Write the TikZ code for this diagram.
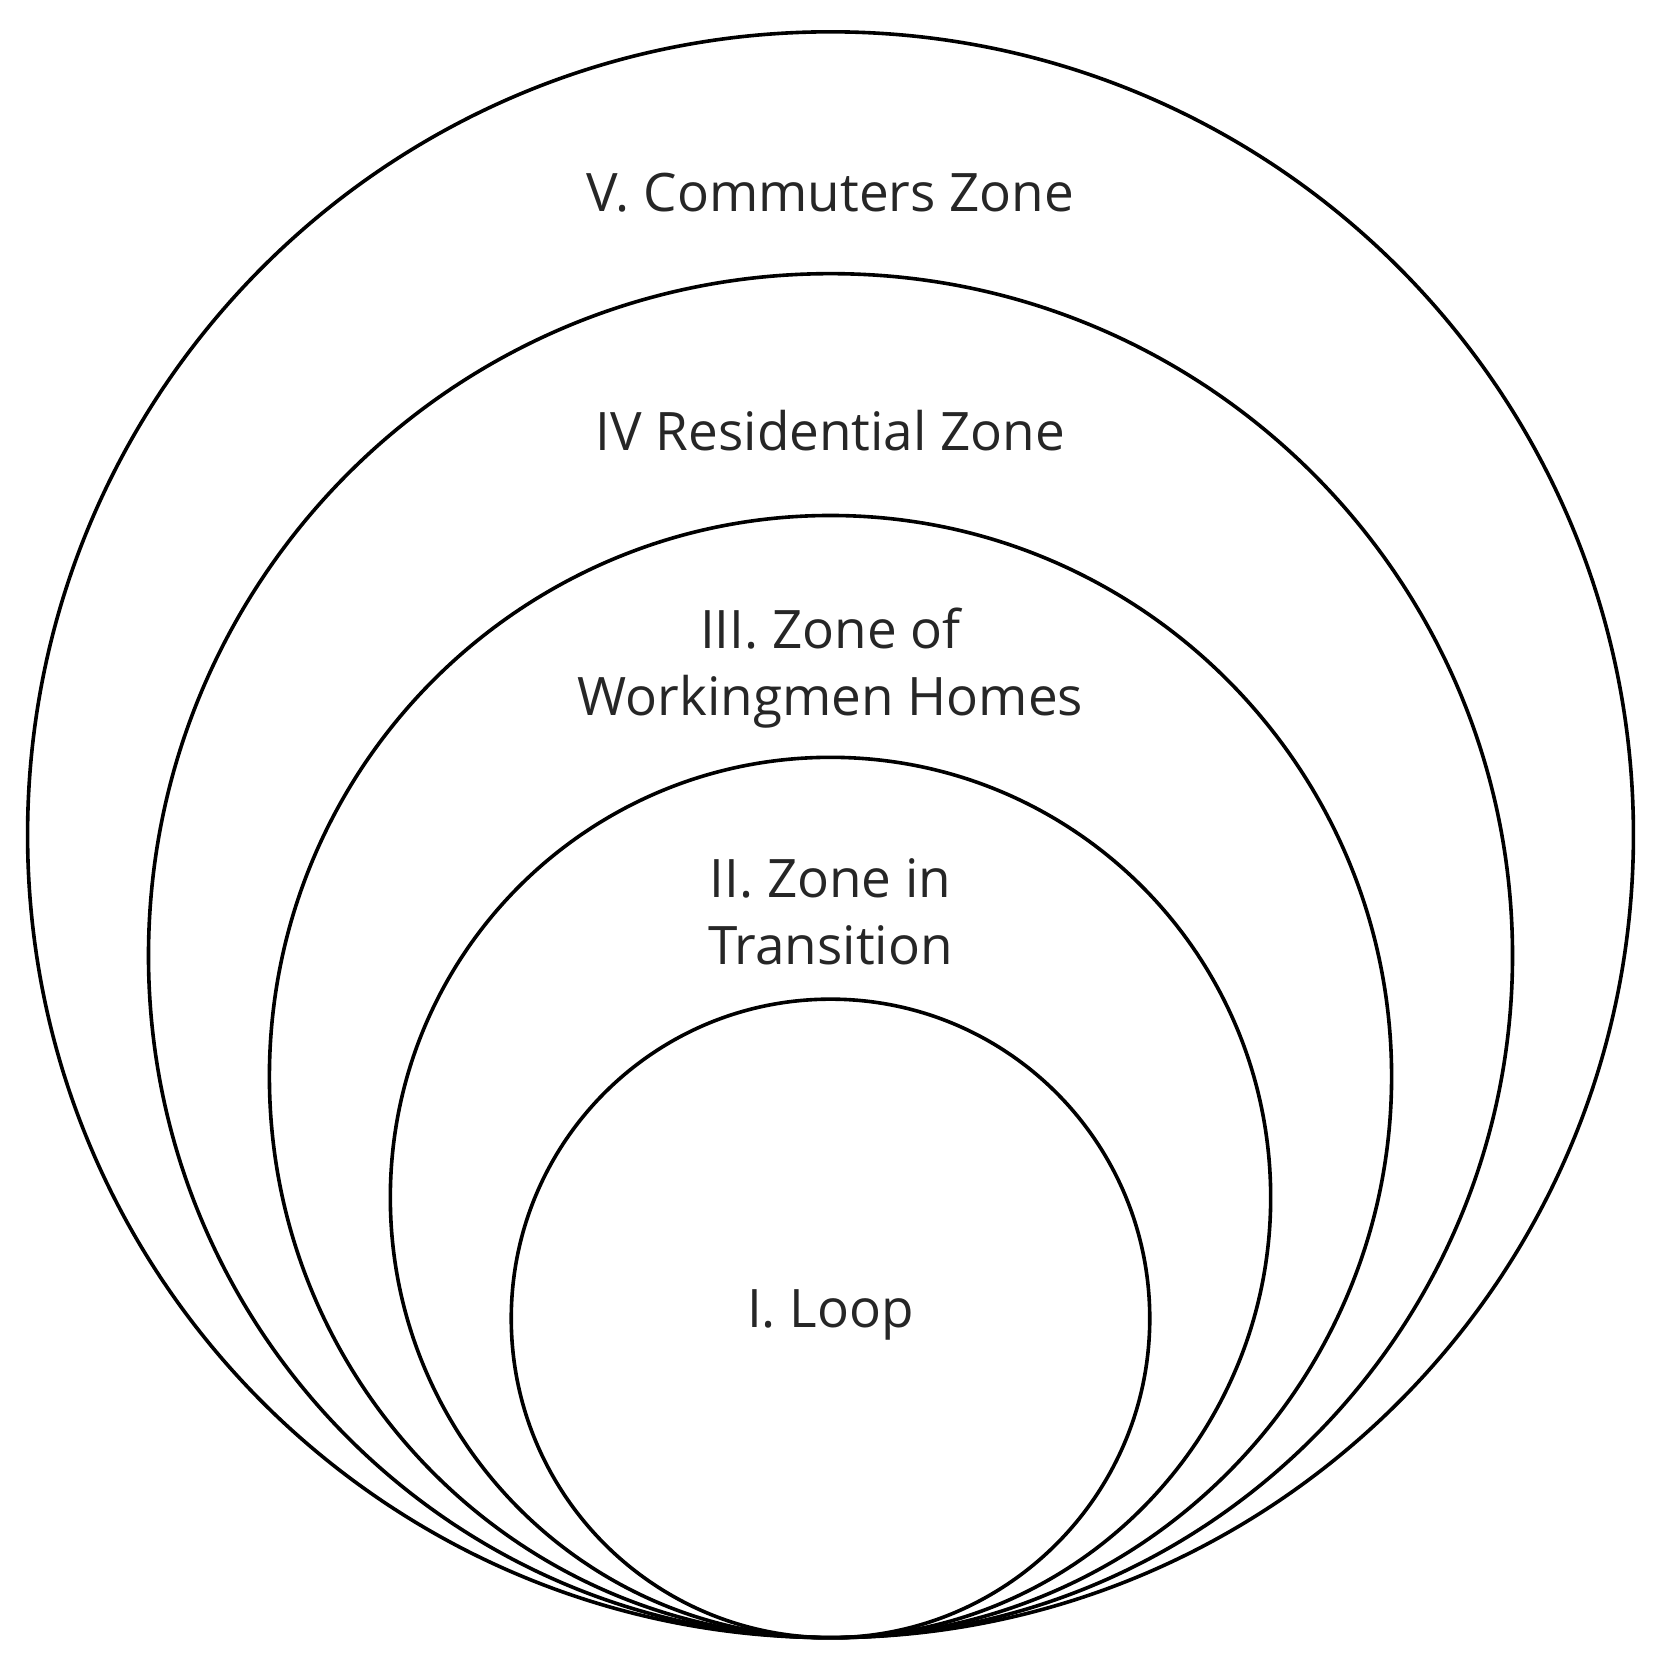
\documentclass[tikz,border=0pt]{standalone}
\usepackage{fontspec}
\setmainfont{Open Sans}
\begin{document}
\begin{tikzpicture}[x=1pt,y=-1pt,
  ring/.style={draw=black,line width=3.4pt},
  lbl/.style={font=\fontsize{50}{63}\selectfont,align=center,text=black!85}]
\useasboundingbox (0,0) rectangle (1566,1563);
\fill[white] (0,0) rectangle (1566,1563);
\draw[ring] (783,787) circle (757);
\draw[ring] (783,901) circle (643);
\draw[ring] (783,1015) circle (529);
\draw[ring] (783,1129) circle (415);
\draw[ring] (783,1243) circle (301);
\node[lbl] (v) at (783,182) {V. Commuters Zone};
\node[lbl] (iv) at (783,406) {IV Residential Zone};
\node[lbl] (iii) at (783,630) {III. Zone of\\Workingmen Homes};
\node[lbl] (ii) at (783,860) {II. Zone in\\Transition};
\node[lbl] (i) at (783,1240) {I. Loop};
\end{tikzpicture}
\end{document}
